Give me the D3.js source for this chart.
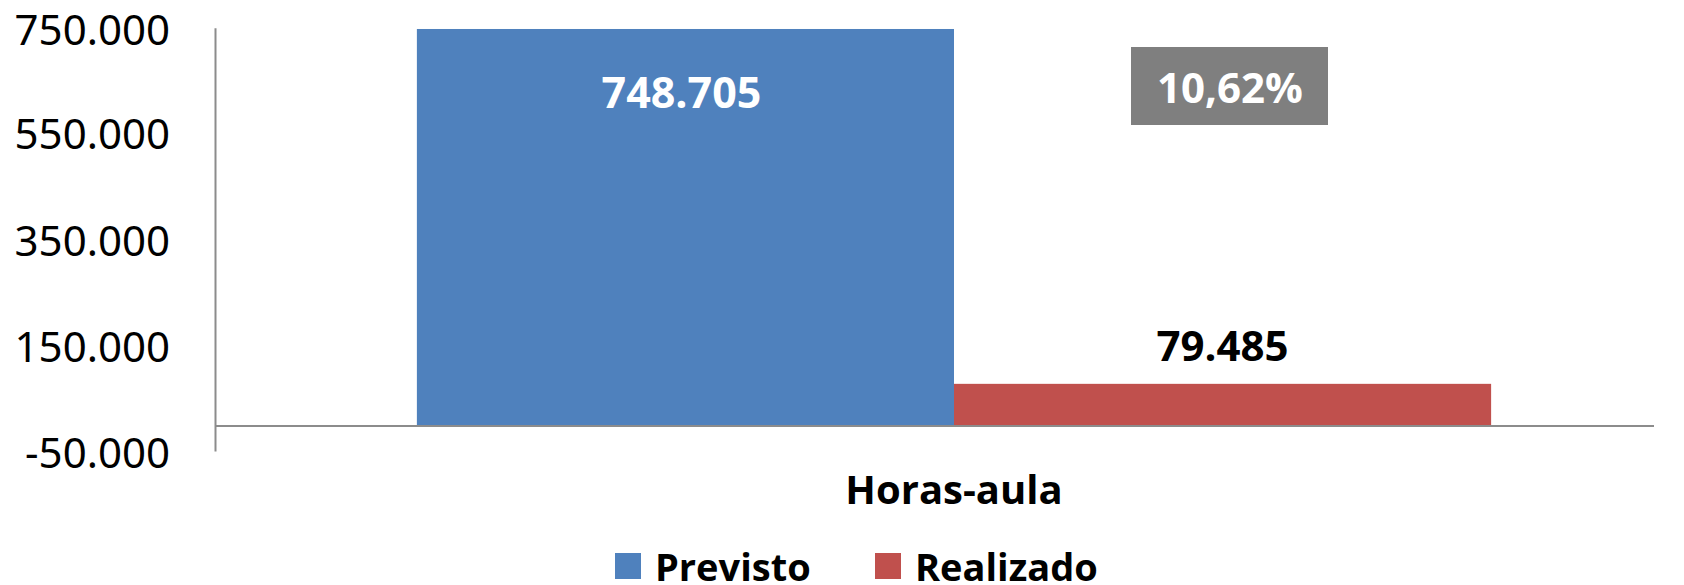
<!DOCTYPE html>
<html>
<head>
<meta charset="utf-8">
<script src="https://cdn.jsdelivr.net/npm/d3@7"></script>
<style>
    body { margin: 0; background: #fff; }
    svg { display: block; }
    .tick-label { font-family: "Noto Sans", "Open Sans", sans-serif; font-size: 42px; fill: #000; }
    .bold { font-family: "Open Sans", sans-serif; font-weight: 700; }
</style>
</head>
<body>
<div id="chart"></div>
<script>
const categories = ["Horas-aula"];
const seriesNames = ["Previsto", "Realizado"];
const seriesValues = [748705, 79485];
const seriesColors = ["#4f81bd", "#c0504d"];
const tickValues = [-50000, 150000, 350000, 550000, 750000];

const W = 1684, H = 585;

const ptBR = d3.formatLocale({decimal: ",", thousands: ".", grouping: [3], currency: ["R$", ""], minus: "-"});
const fmtInt = ptBR.format(",.0f");

const svg = d3.select("#chart").append("svg")
    .attr("width", W)
    .attr("height", H);

// scales
const y = d3.scaleLinear()
    .domain([-50000, 750000])
    .range([452.5, 28.3]);

const x0 = d3.scaleBand()
    .domain(categories)
    .range([216, 1692]);

const x1 = d3.scaleBand()
    .domain(seriesNames)
    .range([0, x0.bandwidth()])
    .paddingInner(0)
    .paddingOuter(0.374);

// y axis line
svg.append("line")
    .attr("x1", 215.5).attr("x2", 215.5)
    .attr("y1", y(750000)).attr("y2", y(-50000) - 1)
    .attr("stroke", "#8c8c8c").attr("stroke-width", 2);

// y tick labels
svg.selectAll(".tick-label")
    .data(tickValues)
    .enter().append("text")
    .attr("class", "tick-label")
    .attr("x", 170)
    .attr("y", d => y(d) + (d === 750000 ? 2 : 0))
    .attr("dy", "0.36em")
    .attr("text-anchor", "end")
    .text(d => fmtInt(d));

// bars
const rows = seriesNames.map((s, i) => ({series: s, value: seriesValues[i], color: seriesColors[i], cat: categories[0]}));

svg.selectAll(".bar")
    .data(rows)
    .enter().append("rect")
    .attr("class", "bar")
    .attr("x", d => x0(d.cat) + x1(d.series))
    .attr("width", x1.bandwidth())
    .attr("y", d => y(d.value))
    .attr("height", d => y(0) - y(d.value))
    .attr("fill", d => d.color);

// zero baseline
svg.append("line")
    .attr("x1", 216).attr("x2", 1654)
    .attr("y1", y(0)).attr("y2", y(0))
    .attr("stroke", "#8c8c8c").attr("stroke-width", 2);

// value labels
svg.append("text")
    .attr("class", "bold")
    .attr("x", x0(categories[0]) + x1("Previsto") + x1.bandwidth() / 2 - 4)
    .attr("y", 108)
    .attr("text-anchor", "middle")
    .attr("font-size", 43)
    .attr("fill", "#fff")
    .text(fmtInt(seriesValues[0]));

svg.append("text")
    .attr("class", "bold")
    .attr("x", x0(categories[0]) + x1("Realizado") + x1.bandwidth() / 2)
    .attr("y", 361)
    .attr("text-anchor", "middle")
    .attr("font-size", 42)
    .attr("fill", "#000")
    .text(fmtInt(seriesValues[1]));

// percentage box
const pct = seriesValues[1] / seriesValues[0] * 100;
svg.append("rect")
    .attr("x", 1131).attr("y", 47)
    .attr("width", 197).attr("height", 78)
    .attr("fill", "#7f7f7f");
svg.append("text")
    .attr("class", "bold")
    .attr("x", 1230)
    .attr("y", 103)
    .attr("text-anchor", "middle")
    .attr("font-size", 42)
    .attr("fill", "#fff")
    .text(ptBR.format(".2f")(pct) + "%");

// category label
svg.append("text")
    .attr("class", "bold")
    .attr("x", x0(categories[0]) + x0.bandwidth() / 2)
    .attr("y", 504)
    .attr("text-anchor", "middle")
    .attr("font-size", 40)
    .attr("fill", "#000")
    .text(categories[0]);

// legend
const legendX = [615, 875];
const legend = svg.selectAll(".legend")
    .data(rows)
    .enter().append("g")
    .attr("class", "legend")
    .attr("transform", (d, i) => `translate(${legendX[i]},553)`);

legend.append("rect")
    .attr("width", 26).attr("height", 26)
    .attr("fill", d => d.color);

legend.append("text")
    .attr("class", "bold")
    .attr("x", 40)
    .attr("y", 28)
    .attr("font-size", 38)
    .attr("fill", "#000")
    .text(d => d.series);
</script>
</body>
</html>
